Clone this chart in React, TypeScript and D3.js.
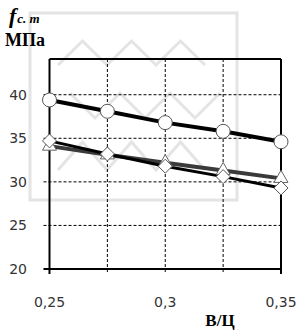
import React from "react";
import * as d3 from "d3";

const xValues = [0.25, 0.275, 0.3, 0.325, 0.35];
const seriesCircle = [39.4, 38.1, 36.8, 35.8, 34.6];
const seriesTriangle = [34.1, 33.1, 32.2, 31.3, 30.4];
const seriesDiamond = [34.7, 33.2, 31.8, 30.6, 29.3];
const yTicks = [20, 25, 30, 35, 40];
const xTickLabels = [
  { v: 0.25, t: "0,25" },
  { v: 0.3, t: "0,3" },
  { v: 0.35, t: "0,35" },
];
const xGrid = [0.275, 0.3, 0.325];

export default function App() {
  const W = 298, H = 330;
  const x = d3.scaleLinear().domain([0.25, 0.35]).range([49.5, 281]);
  const y = d3.scaleLinear().domain([20, 44.1]).range([269, 59]);
  const line = d3.line<number>().x((_, i) => x(xValues[i])).y((d) => y(d));

  const zig = (x0: number, x1: number, yTop: number, yBot: number, n: number, startLow = true) => {
    const pts: [number, number][] = [];
    for (let i = 0; i <= n; i++) {
      const px = x0 + ((x1 - x0) * i) / n;
      const low = (i % 2 === 0) === startLow;
      pts.push([px, low ? yBot : yTop]);
    }
    return d3.line()(pts) as string;
  };

  const wm = "#e4e4e4";
  const tri = d3.symbol().type(d3.symbolTriangle).size(85)() as string;

  return (
    <svg width={W} height={H} style={{ position: "absolute", left: 0, top: 0, background: "#fff" }}>
      <rect x={0} y={0} width={W} height={H} fill="#fff" />
      {/* watermark */}
      <g stroke={wm} strokeWidth={3} fill="none">
        <rect x={30} y={13} width={207} height={187} />
        <path d={zig(58, 205, 41, 65, 6)} />
        <path d={zig(70, 220, 93, 118, 6, false)} />
        <path d={zig(58, 205, 142, 170, 6)} />
      </g>
      {/* grid */}
      <g stroke="#000" strokeWidth={1} strokeDasharray="3,2">
        {yTicks.filter((t) => t > 20).map((t) => (
          <line key={t} x1={x(0.25) - 6} x2={x(0.35)} y1={y(t)} y2={y(t)} />
        ))}
        {xGrid.map((v) => (
          <line key={v} x1={x(v)} x2={x(v)} y1={y(44.1)} y2={y(20) + 5} />
        ))}
      </g>
      {/* frame */}
      <g stroke="#000" strokeWidth={2} fill="none">
        <line x1={x(0.25)} x2={x(0.35)} y1={y(44.1)} y2={y(44.1)} />
        <line x1={x(0.25)} x2={x(0.25)} y1={y(44.1)} y2={y(20) + 5} />
        <line x1={x(0.35)} x2={x(0.35)} y1={y(44.1)} y2={y(20) + 5} />
        <line x1={x(0.25) - 6} x2={x(0.35)} y1={y(20)} y2={y(20)} />
      </g>
      {/* lines */}
      <path d={line(seriesCircle) as string} stroke="#000" strokeWidth={4} fill="none" />
      <path d={line(seriesTriangle) as string} stroke="#3a3a3a" strokeWidth={4} fill="none" />
      <path d={line(seriesDiamond) as string} stroke="#000" strokeWidth={3} fill="none" />
      {/* markers */}
      {seriesTriangle.map((d, i) => (
        <path key={"t" + i} d={tri} transform={`translate(${x(xValues[i])},${y(d)})`} fill="#fff" stroke="#666" strokeWidth={1} />
      ))}
      {seriesDiamond.map((d, i) => {
        const cx = x(xValues[i]), cy = y(d), r = 7;
        return (
          <path key={"d" + i} d={`M${cx},${cy - r}L${cx + r},${cy}L${cx},${cy + r}L${cx - r},${cy}Z`} fill="#fff" stroke="#555" strokeWidth={1} />
        );
      })}
      {seriesCircle.map((d, i) => (
        <circle key={"c" + i} cx={x(xValues[i])} cy={y(d)} r={7} fill="#fff" stroke="#555" strokeWidth={1} />
      ))}
      {/* y labels */}
      <g fontFamily="DejaVu Sans" fontSize={14} fill="#333" textAnchor="end">
        {yTicks.map((t) => (
          <text key={t} x={27} y={y(t) + 5}>{t}</text>
        ))}
      </g>
      <g fontFamily="DejaVu Sans" fontSize={14} fill="#333" textAnchor="middle">
        {xTickLabels.map((d) => (
          <text key={d.v} x={x(d.v)} y={307}>{d.t}</text>
        ))}
      </g>
      <text x={220} y={326} fontFamily="Liberation Serif" fontWeight="bold" fontSize={17} textAnchor="middle" fill="#000">В/Ц</text>
      <text x={9} y={23} fontFamily="Liberation Serif" fontWeight="bold" fontStyle="italic" fill="#000">
        <tspan fontSize={22}>f</tspan>
        <tspan fontSize={13} dx={1}>c. m</tspan>
      </text>
      <text x={5} y={46} fontFamily="Liberation Serif" fontWeight="bold" fontSize={18} fill="#000">МПа</text>
    </svg>
  );
}
